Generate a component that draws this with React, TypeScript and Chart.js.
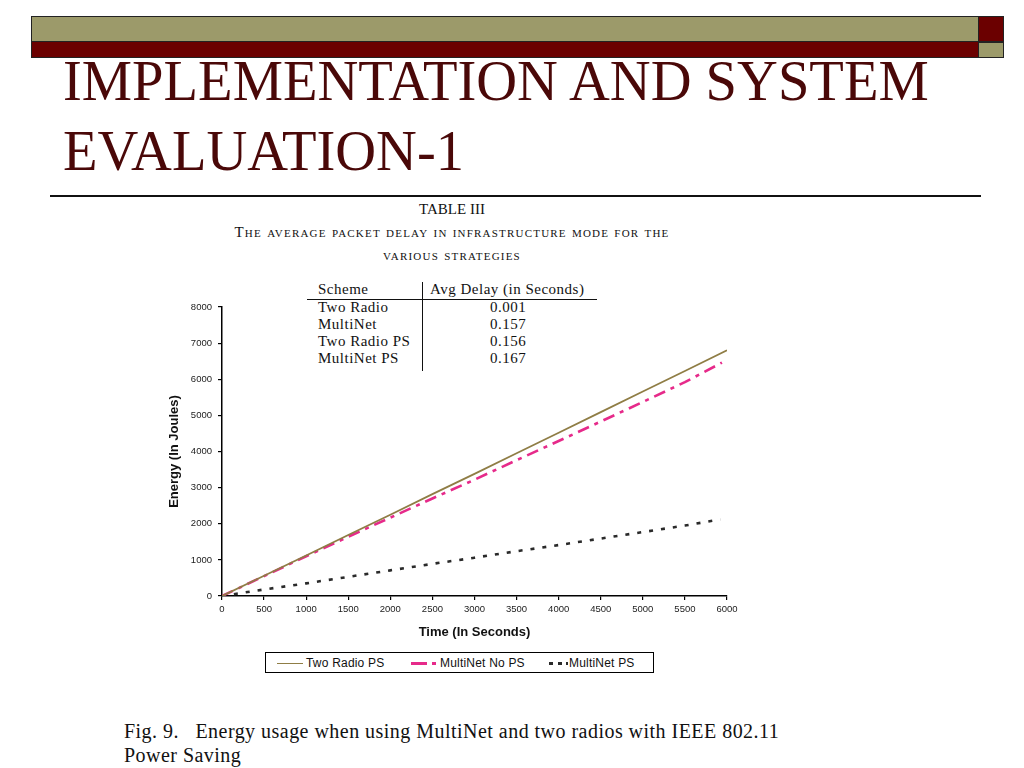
import React, { useEffect, useRef } from "react";
import { Chart, registerables } from "chart.js";

Chart.register(...registerables);

// ---- data ----
const timeTicks = [0, 500, 1000, 1500, 2000, 2500, 3000, 3500, 4000, 4500, 5000, 5500, 6000];
const energyTicks = [0, 1000, 2000, 3000, 4000, 5000, 6000, 7000, 8000];

const twoRadioTime = [0, 500, 1000, 1500, 2000, 2500, 3000, 3500, 4000, 4500, 5000, 5500, 6000];
const twoRadioPS = [0, 560, 1120, 1690, 2250, 2820, 3380, 3950, 4520, 5090, 5660, 6230, 6800];

const multiNetNoPSTime = [0, 500, 1000, 1500, 2000, 2500, 3000, 3500, 4000, 4500, 5000, 5500, 5940];
const multiNetNoPS = [0, 550, 1100, 1640, 2170, 2700, 3220, 3760, 4290, 4830, 5370, 5920, 6460];

const multiNetPSTime = [0, 500, 1000, 1500, 2000, 2500, 3000, 3500, 4000, 4500, 5000, 5500, 5920];
const multiNetPS = [0, 180, 350, 530, 710, 890, 1060, 1240, 1410, 1590, 1770, 1950, 2120];

const seriesNames = ["Two Radio PS", "MultiNet No PS", "MultiNet PS"];

const tableSchemes = ["Two Radio", "MultiNet", "Two Radio PS", "MultiNet PS"];
const tableDelays = ["0.001", "0.157", "0.156", "0.167"];

const OLIVE = "#9c9a6a";
const MAROON = "#6b0000";
const TITLE_COLOR = "#4a0808";

function toPoints(xs: number[], ys: number[]) {
  return xs.map((x, i) => ({ x, y: ys[i] }));
}

function EnergyChart() {
  const ref = useRef<HTMLCanvasElement | null>(null);
  useEffect(() => {
    if (!ref.current) return;
    const sans = "'Liberation Sans', Arial, sans-serif";
    const tickFont = { family: sans, size: 9.5, weight: "normal" as const };
    const chart = new Chart(ref.current, {
      type: "line",
      data: {
        datasets: [
          {
            label: seriesNames[0],
            data: toPoints(twoRadioTime, twoRadioPS),
            borderColor: "#8f7d45",
            borderWidth: 1.8,
            pointRadius: 0,
            tension: 0,
          },
          {
            label: seriesNames[1],
            data: toPoints(multiNetNoPSTime, multiNetNoPS),
            borderColor: "#e62a8a",
            borderWidth: 2.6,
            borderDash: [12, 6, 4, 6],
            pointRadius: 0,
            tension: 0,
          },
          {
            label: seriesNames[2],
            data: toPoints(multiNetPSTime, multiNetPS),
            borderColor: "#2a2a2a",
            borderWidth: 2.6,
            borderDash: [4, 8],
            pointRadius: 0,
            tension: 0,
          },
        ],
      },
      options: {
        animation: false,
        responsive: false,
        maintainAspectRatio: false,
        layout: { padding: { top: 12, right: 23, left: 0, bottom: 0 } },
        plugins: { legend: { display: false }, tooltip: { enabled: false } },
        scales: {
          x: {
            type: "linear",
            min: 0,
            max: 6000,
            afterBuildTicks: (scale: any) => {
              scale.ticks = timeTicks.map((v) => ({ value: v }));
            },
            afterFit: (scale: any) => {
              scale.height = 46;
            },
            ticks: {
              color: "#222",
              font: tickFont,
              maxRotation: 0,
              autoSkip: false,
              padding: 4,
              callback: (v: any) => String(v),
            },
            grid: { display: true, drawOnChartArea: false, drawTicks: true, tickLength: 4, color: "#000", lineWidth: 1.2 },
            border: { display: true, color: "#000", width: 1.5 },
            title: {
              display: true,
              text: "Time (In Seconds)",
              color: "#111",
              font: { family: sans, size: 13, weight: "bold" },
              padding: { top: 2, bottom: 2 },
            },
          },
          y: {
            type: "linear",
            min: 0,
            max: 8000,
            afterBuildTicks: (scale: any) => {
              scale.ticks = energyTicks.map((v) => ({ value: v }));
            },
            afterFit: (scale: any) => {
              scale.width = 72;
            },
            ticks: { color: "#222", font: tickFont, padding: 6, callback: (v: any) => String(v) },
            grid: { display: true, drawOnChartArea: false, drawTicks: true, tickLength: 4, color: "#000", lineWidth: 1.2 },
            border: { display: true, color: "#000", width: 1.5 },
            title: {
              display: true,
              text: "Energy (In Joules)",
              color: "#111",
              font: { family: sans, size: 13, weight: "bold" },
              padding: { top: 17, bottom: 0 },
            },
          },
        },
      },
    });
    return () => chart.destroy();
  }, []);
  return (
    <canvas
      ref={ref}
      width={600}
      height={347}
      style={{ position: "absolute", left: 150, top: 295, width: 600, height: 347 }}
    />
  );
}

function Legend() {
  const font = "'Liberation Sans', Arial, sans-serif";
  const text: React.CSSProperties = {
    position: "absolute",
    top: 3,
    fontFamily: font,
    fontSize: 12,
    letterSpacing: 0.2,
    lineHeight: "14px",
    color: "#111",
    whiteSpace: "nowrap",
  };
  const L = 265;
  return (
    <div
      style={{
        position: "absolute",
        left: L,
        top: 652,
        width: 389,
        height: 21,
        border: "1px solid #000",
        background: "#fff",
        boxSizing: "border-box",
      }}
    >
      <div style={{ position: "absolute", left: 276 - L, top: 10, width: 26, borderTop: "1.5px solid #8f7d45" }} />
      <div style={{ ...text, left: 305 - L }}>{seriesNames[0]}</div>
      <div style={{ position: "absolute", left: 410 - L, top: 9, width: 16, height: 3, background: "#e62a8a" }} />
      <div style={{ position: "absolute", left: 431 - L, top: 9, width: 4, height: 3, background: "#e62a8a" }} />
      <div style={{ ...text, left: 439 - L }}>{seriesNames[1]}</div>
      <div style={{ position: "absolute", left: 548 - L, top: 9, width: 4, height: 3, background: "#2a2a2a" }} />
      <div style={{ position: "absolute", left: 557 - L, top: 9, width: 4, height: 3, background: "#2a2a2a" }} />
      <div style={{ position: "absolute", left: 565 - L, top: 9, width: 2, height: 3, background: "#2a2a2a" }} />
      <div style={{ ...text, left: 568 - L }}>{seriesNames[2]}</div>
    </div>
  );
}

function SmallCaps({ text, big, small, spacing }: { text: string; big: number; small: number; spacing: number }) {
  const words = text.split(" ");
  return (
    <span style={{ letterSpacing: spacing }}>
      {words.map((w, i) => (
        <React.Fragment key={i}>
          {i > 0 ? " " : null}
          {i === 0 ? (
            <>
              <span style={{ fontSize: big }}>{w[0].toUpperCase()}</span>
              <span style={{ fontSize: small }}>{w.slice(1).toUpperCase()}</span>
            </>
          ) : (
            <span style={{ fontSize: small }}>{w.toUpperCase()}</span>
          )}
        </React.Fragment>
      ))}
    </span>
  );
}

export default function App() {
  const serif = "'Liberation Serif', 'Times New Roman', serif";
  const abs: React.CSSProperties = { position: "absolute" };
  return (
    <div
      style={{
        position: "absolute",
        left: 0,
        top: 0,
        width: 1024,
        height: 768,
        background: "#fff",
        overflow: "hidden",
        fontFamily: serif,
      }}
    >
      {/* header bars */}
      <div style={{ ...abs, left: 31, top: 16, width: 947, height: 26, background: OLIVE, borderTop: "1px solid #222", borderBottom: "1px solid #222", boxSizing: "border-box" }} />
      <div style={{ ...abs, left: 31, top: 42, width: 947, height: 16, background: MAROON, borderBottom: "1px solid #222", boxSizing: "border-box" }} />
      <div style={{ ...abs, left: 978, top: 16, width: 26, height: 26, background: MAROON, border: "1px solid #222", boxSizing: "border-box" }} />
      <div style={{ ...abs, left: 978, top: 42, width: 26, height: 16, background: OLIVE, border: "1px solid #222", boxSizing: "border-box" }} />
      <div style={{ ...abs, left: 31, top: 16, width: 1, height: 42, background: "#222" }} />

      {/* title */}
      <div
        style={{
          ...abs,
          left: 63,
          top: 46,
          fontSize: 58,
          lineHeight: "70px",
          color: TITLE_COLOR,
          whiteSpace: "nowrap",
          transform: "scaleX(0.975)",
          transformOrigin: "0 0",
        }}
      >
        IMPLEMENTATION AND SYSTEM
        <br />
        EVALUATION-1
      </div>

      {/* rule */}
      <div style={{ ...abs, left: 50, top: 195, width: 931, height: 2, background: "#111" }} />

      {/* table caption */}
      <div style={{ ...abs, left: 0, width: 904, top: 200, textAlign: "center", fontSize: 15, lineHeight: "18px", color: "#111" }}>
        TABLE III
      </div>
      <div style={{ ...abs, left: 0, width: 904, top: 223, textAlign: "center", lineHeight: "18px", color: "#111", whiteSpace: "nowrap" }}>
        <SmallCaps text="The average packet delay in infrastructure mode for the" big={15} small={11} spacing={1.2} />
      </div>
      <div style={{ ...abs, left: 0, width: 904, top: 246, textAlign: "center", lineHeight: "18px", color: "#111", whiteSpace: "nowrap" }}>
        <SmallCaps text="various strategies" big={11} small={11} spacing={1.2} />
      </div>

      {/* table */}
      <div style={{ ...abs, left: 307, top: 299, width: 290, height: 1, background: "#111" }} />
      <div style={{ ...abs, left: 422, top: 282, width: 1, height: 89, background: "#111" }} />
      <div style={{ ...abs, left: 318, top: 281, fontSize: 15, letterSpacing: 0.5, color: "#111", lineHeight: "17px" }}>Scheme</div>
      <div style={{ ...abs, left: 430, top: 281, fontSize: 15, letterSpacing: 0.5, color: "#111", lineHeight: "17px", whiteSpace: "nowrap" }}>
        Avg Delay (in Seconds)
      </div>
      {tableSchemes.map((s, i) => (
        <React.Fragment key={s}>
          <div style={{ ...abs, left: 318, top: 299 + i * 17, fontSize: 15, letterSpacing: 0.5, color: "#111", lineHeight: "17px", whiteSpace: "nowrap" }}>
            {s}
          </div>
          <div
            style={{ ...abs, left: 468, width: 80, textAlign: "center", top: 299 + i * 17, fontSize: 15, letterSpacing: 0.5, color: "#111", lineHeight: "17px" }}
          >
            {tableDelays[i]}
          </div>
        </React.Fragment>
      ))}

      <EnergyChart />
      <Legend />

      {/* figure caption */}
      <div style={{ ...abs, left: 124, top: 719, fontSize: 20, letterSpacing: 0.47, lineHeight: "24px", color: "#111", whiteSpace: "nowrap" }}>
        Fig. 9.&nbsp;&nbsp; Energy usage when using MultiNet and two radios with IEEE 802.11
        <br />
        Power Saving
      </div>
    </div>
  );
}
